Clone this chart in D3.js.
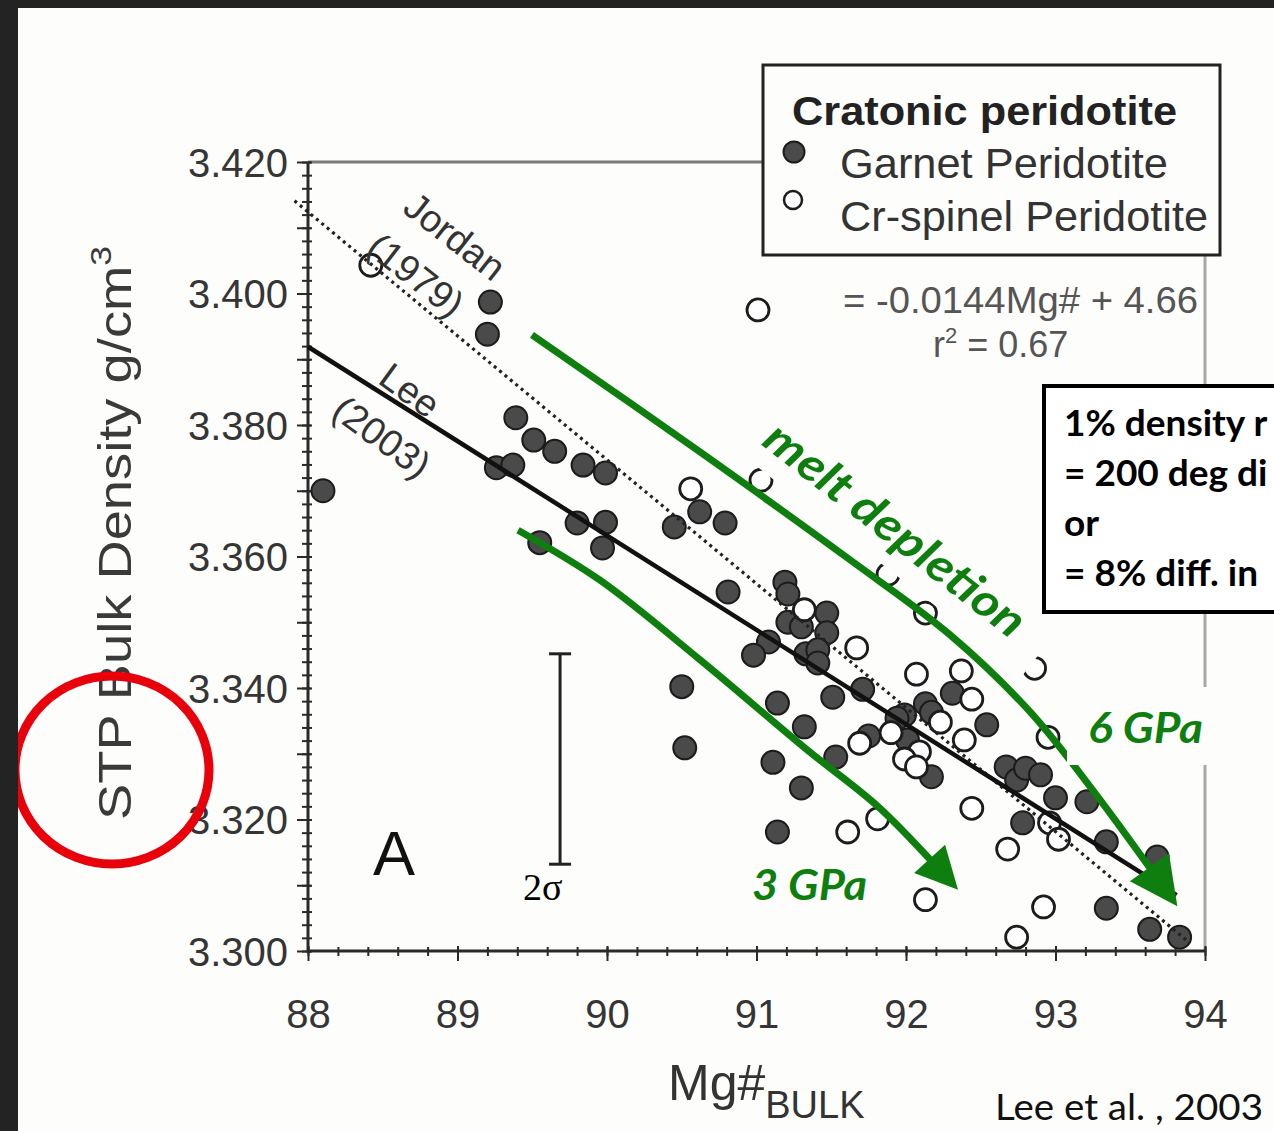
<!DOCTYPE html>
<html><head><meta charset="utf-8">
<script src="https://cdn.jsdelivr.net/npm/d3@7"></script>
<style>body{margin:0;background:#fdfdfb;overflow:hidden} svg{display:block;}</style>
</head><body><svg id="c" width="1274" height="1131"></svg>
<script>
// ---------- data ----------
const xTicks = [88, 89, 90, 91, 92, 93, 94];
const yTicks = [3.300, 3.320, 3.340, 3.360, 3.380, 3.400, 3.420];
// Garnet peridotite (filled) [Mg#, density]
const garnet = [[88.10,3.3700],[89.22,3.3987],[89.20,3.3938],[89.39,3.3811],[89.51,3.3777],[89.65,3.3760],[89.26,3.3735],[89.37,3.3739],[89.84,3.3739],[89.99,3.3727],[89.80,3.3651],[89.99,3.3652],[89.97,3.3613],[89.55,3.3621],[90.45,3.3645],[90.62,3.3668],[90.79,3.3651],[90.81,3.3546],[91.19,3.3561],[91.21,3.3543],[91.47,3.3514],[91.21,3.3500],[91.30,3.3493],[91.47,3.3484],[91.08,3.3470],[90.98,3.3450],[91.33,3.3452],[91.41,3.3458],[91.41,3.3438],[90.50,3.3402],[90.52,3.3309],[91.14,3.3377],[91.51,3.3386],[91.71,3.3398],[91.32,3.3341],[91.11,3.3287],[91.30,3.3248],[91.14,3.3181],[91.53,3.3295],[91.75,3.3327],[92.31,3.3392],[91.99,3.3359],[92.13,3.3376],[92.17,3.3363],[92.54,3.3344],[92.01,3.3321],[92.17,3.3265],[92.67,3.3280],[92.74,3.3260],[92.80,3.3278],[92.90,3.3268],[93.00,3.3233],[93.21,3.3227],[92.78,3.3195],[93.34,3.3166],[93.68,3.3143],[93.34,3.3065],[93.63,3.3033],[93.83,3.3021],[91.94,3.3354]];
// Cr-spinel peridotite (open)
const spinel = [[88.42,3.4043],[91.01,3.3975],[90.56,3.3703],[91.03,3.3716],[91.32,3.3519],[91.67,3.3461],[92.13,3.3514],[91.88,3.3573],[92.07,3.3421],[92.37,3.3426],[92.44,3.3383],[92.23,3.3348],[91.90,3.3332],[91.69,3.3316],[92.39,3.3321],[92.09,3.3303],[91.99,3.3292],[92.07,3.3280],[92.44,3.3217],[91.81,3.3201],[91.61,3.3181],[92.95,3.3325],[92.86,3.3430],[92.96,3.3195],[93.02,3.3170],[92.68,3.3155],[92.13,3.3078],[92.92,3.3067],[92.74,3.3021]];
// regression lines
const leeFit = [[88.0,3.3919],[93.81,3.3085]];
const jordanFit = [[87.91,3.4141],[93.9,3.3012]];
// annotation arrows (data coords)
const meltArrow = [[89.498,3.3937],[90.622,3.3759],[91.625,3.3595],[92.294,3.3481],[92.829,3.3364],[93.298,3.3230],[93.815,3.3068]];
const gpa3Arrow = [[89.405,3.3640],[89.953,3.3564],[90.622,3.3443],[91.338,3.3306],[91.826,3.3217],[92.348,3.3093]];
// 2 sigma error bar
const errBar = {mg: 89.686, center: 3.3292, half: 0.016};
// info box lines (as visible, cut by the picture edge)
const infoLines = ["1% density r","= 200 deg di","or","= 8% diff. in"];

// ---------- setup ----------
const svg = d3.select("#c");
const FONT = "'Liberation Sans', Arial, sans-serif";
const SANS2 = "Lato, 'Open Sans', sans-serif";
const GREEN = "#0e7f0e";
svg.append("rect").attr("width",1274).attr("height",1131).attr("fill","#fdfdfb");

const x = d3.scaleLinear().domain([88,94]).range([308,1205]);
const y = d3.scaleLinear().domain([3.300,3.420]).range([951,162]);

// frame (top & right, gray)
svg.append("line").attr("x1",x(88)).attr("x2",765).attr("y1",y(3.42)).attr("y2",y(3.42))
  .attr("stroke","#7a7a7a").attr("stroke-width",3);
svg.append("line").attr("x1",x(94)).attr("x2",x(94)).attr("y1",250).attr("y2",y(3.30))
  .attr("stroke","#a8a8a8").attr("stroke-width",3);

// ---------- axes ----------
const yMinor = d3.range(3.300, 3.4201, 0.002);
const yMid = d3.range(3.310, 3.42, 0.02);
const xMinor = d3.range(88, 94.001, 0.2);

function styleAxis(g){ g.select(".domain").remove(); g.selectAll("line").attr("stroke","#2a2a2a").attr("stroke-width",2); }

const gy = svg.append("g");
gy.append("g").attr("transform",`translate(${x(88)},0)`)
  .call(d3.axisLeft(y).tickValues(yMinor).tickSize(5).tickFormat(""))
  .call(styleAxis).selectAll("line").attr("x2",-6).attr("x1",4);
gy.append("g").attr("transform",`translate(${x(88)},0)`)
  .call(d3.axisLeft(y).tickValues(yMid).tickSize(11).tickFormat(""))
  .call(styleAxis).selectAll("line").attr("x1",3);
const yMaj = gy.append("g").attr("transform",`translate(${x(88)},0)`)
  .call(d3.axisLeft(y).tickValues(yTicks).tickSize(11).tickPadding(9).tickFormat(d3.format(".3f")))
  .call(styleAxis);
yMaj.selectAll("line").attr("x1",3);
yMaj.selectAll("text").attr("font-family",FONT).attr("font-size",40).attr("fill","#353535").attr("dy","0.36em");

const gx = svg.append("g");
gx.append("g").attr("transform",`translate(0,${y(3.30)})`)
  .call(d3.axisBottom(x).tickValues(xMinor).tickSize(5).tickFormat(""))
  .call(styleAxis).selectAll("line").attr("y1",-4);
const xMaj = gx.append("g").attr("transform",`translate(0,${y(3.30)})`)
  .call(d3.axisBottom(x).tickValues(xTicks).tickSize(10).tickPadding(67).tickFormat(d3.format("d")))
  .call(styleAxis);
xMaj.selectAll("line").attr("y1",-5);
xMaj.selectAll("text").attr("font-family",FONT).attr("font-size",40).attr("fill","#353535").attr("dy","0");

// axis lines
svg.append("line").attr("x1",x(88)).attr("x2",x(88)).attr("y1",y(3.42)).attr("y2",y(3.30)+2).attr("stroke","#2a2a2a").attr("stroke-width",3);
svg.append("line").attr("x1",x(88)-1).attr("x2",x(94)).attr("y1",y(3.30)).attr("y2",y(3.30)).attr("stroke","#2a2a2a").attr("stroke-width",3);

// axis titles
const yt = svg.append("text").attr("transform","translate(131,533) rotate(-90)")
  .attr("text-anchor","middle").attr("font-family",FONT).attr("font-size",46).attr("fill","#3a3a3a")
  .attr("textLength",574).attr("lengthAdjust","spacingAndGlyphs");
yt.append("tspan").text("STP Bulk Density g/cm");
yt.append("tspan").attr("font-size",30).attr("dy",-20).text("3");

const xt = svg.append("text").attr("x",668).attr("y",1100).attr("font-family",FONT).attr("fill","#333");
xt.append("tspan").attr("font-size",50).text("Mg#");
xt.append("tspan").attr("font-size",38).attr("dy",18).text("BULK");

// ---------- points ----------
const pts = svg.append("g");
pts.selectAll(".g").data(garnet).join("circle")
  .attr("cx",d=>x(d[0])).attr("cy",d=>y(d[1])).attr("r",11.5)
  .attr("fill","#4a4a4a").attr("stroke","#1c1c1c").attr("stroke-width",2);
pts.selectAll(".s").data(spinel).join("circle")
  .attr("cx",d=>x(d[0])).attr("cy",d=>y(d[1])).attr("r",11)
  .attr("fill","#fff").attr("stroke","#1c1c1c").attr("stroke-width",2.8);

// ---------- fit lines ----------
const line = d3.line().x(d=>x(d[0])).y(d=>y(d[1]));
svg.append("path").attr("d",line(jordanFit)).attr("fill","none").attr("stroke","#222")
  .attr("stroke-width",3.2).attr("stroke-dasharray","3,4");
svg.append("path").attr("d",line(leeFit)).attr("fill","none").attr("stroke","#111").attr("stroke-width",4.5);

function rotLabel(txt, mg, rho, ang){
  svg.append("text").attr("transform",`translate(${x(mg)},${y(rho)}) rotate(${ang})`)
    .attr("text-anchor","middle").attr("dy","0.35em").attr("font-family",FONT).attr("font-size",38)
    .attr("fill","#333").text(txt);
}
rotLabel("Jordan", 88.983, 3.4087, 38);
rotLabel("(1979)", 88.722, 3.4028, 38);
rotLabel("Lee", 88.682, 3.3853, 36);
rotLabel("(2003)", 88.495, 3.3782, 36);

// equation text
svg.append("text").attr("x",843).attr("y",313).attr("font-family",FONT).attr("font-size",36).attr("fill","#555")
  .attr("textLength",355).attr("lengthAdjust","spacingAndGlyphs").text("= -0.0144Mg# + 4.66");
const r2 = svg.append("text").attr("x",933).attr("y",357).attr("font-family",FONT).attr("font-size",36).attr("fill","#555");
r2.append("tspan").text("r");
r2.append("tspan").attr("font-size",22).attr("dy",-14).text("2");
r2.append("tspan").attr("dy",14).text(" = 0.67");

// panel letter & error bar
svg.append("text").attr("x",373).attr("y",875).attr("font-family",FONT).attr("font-size",63).attr("fill","#111").text("A");
const eb = svg.append("g").attr("stroke","#222").attr("stroke-width",3);
eb.append("line").attr("x1",x(errBar.mg)).attr("x2",x(errBar.mg)).attr("y1",y(errBar.center+errBar.half)).attr("y2",y(errBar.center-errBar.half));
eb.append("line").attr("x1",x(errBar.mg)-11).attr("x2",x(errBar.mg)+11).attr("y1",y(errBar.center+errBar.half)).attr("y2",y(errBar.center+errBar.half));
eb.append("line").attr("x1",x(errBar.mg)-11).attr("x2",x(errBar.mg)+11).attr("y1",y(errBar.center-errBar.half)).attr("y2",y(errBar.center-errBar.half));
svg.append("text").attr("x",523).attr("y",900).attr("font-family","'Liberation Serif', 'Times New Roman', serif")
  .attr("font-size",38).attr("fill","#000").text("2σ");

// ---------- legend ----------
const lg = svg.append("g");
lg.append("rect").attr("x",763).attr("y",65).attr("width",457).attr("height",190).attr("fill","#fdfdfb")
  .attr("stroke","#222").attr("stroke-width",3);
lg.append("text").attr("x",792).attr("y",125).attr("font-family",FONT).attr("font-weight","bold").attr("font-size",40)
  .attr("fill","#222").attr("textLength",385).attr("lengthAdjust","spacingAndGlyphs").text("Cratonic peridotite");
lg.append("circle").attr("cx",794).attr("cy",152).attr("r",10.5).attr("fill","#4a4a4a").attr("stroke","#1c1c1c").attr("stroke-width",2);
lg.append("circle").attr("cx",793).attr("cy",200).attr("r",9).attr("fill","#fff").attr("stroke","#1c1c1c").attr("stroke-width",2.5);
lg.append("text").attr("x",840).attr("y",178).attr("font-family",FONT).attr("font-size",42).attr("fill","#333")
  .attr("textLength",328).attr("lengthAdjust","spacingAndGlyphs").text("Garnet Peridotite");
lg.append("text").attr("x",840).attr("y",231).attr("font-family",FONT).attr("font-size",42).attr("fill","#333")
  .attr("textLength",368).attr("lengthAdjust","spacingAndGlyphs").text("Cr-spinel Peridotite");

// ---------- green arrows ----------
function arrow(data, headLen, headHalf){
  const p = svg.append("path").attr("d", d3.line().x(d=>x(d[0])).y(d=>y(d[1])).curve(d3.curveCatmullRom)(data))
    .attr("fill","none").attr("stroke",GREEN).attr("stroke-width",7);
  const L = p.node().getTotalLength();
  const tip = p.node().getPointAtLength(L);
  const back = p.node().getPointAtLength(L - headLen);
  const dx = tip.x-back.x, dy = tip.y-back.y, n = Math.hypot(dx,dy);
  const ux = dx/n, uy = dy/n;
  const bx = tip.x-ux*headLen, by = tip.y-uy*headLen;
  p.attr("stroke-dasharray", `${L-headLen+4},${L}`);
  svg.append("path").attr("d",`M${tip.x},${tip.y}L${bx-uy*headHalf},${by+ux*headHalf}L${bx+uy*headHalf},${by-ux*headHalf}Z`)
    .attr("fill",GREEN);
}
arrow(meltArrow, 48, 24);
arrow(gpa3Arrow, 42, 21);

// ---------- text boxes ----------
const md = svg.append("g").attr("transform","translate(895,530) rotate(38)");
md.append("rect").attr("x",-182).attr("y",-35).attr("width",372).attr("height",70).attr("fill","#fdfdfb");
md.append("text").attr("text-anchor","middle").attr("dy","0.33em").attr("font-family",SANS2)
  .attr("font-weight","bold").attr("font-style","italic").attr("font-size",46).attr("fill",GREEN)
  .attr("textLength",318).attr("lengthAdjust","spacingAndGlyphs").text("melt depletion");

svg.append("rect").attr("x",1067).attr("y",687).attr("width",190).attr("height",78).attr("fill","#fdfdfb");
svg.append("text").attr("x",1088).attr("y",743).attr("font-family",SANS2)
  .attr("font-weight","bold").attr("font-style","italic").attr("font-size",42).attr("fill",GREEN)
  .attr("textLength",115).attr("lengthAdjust","spacingAndGlyphs").text("6 GPa");
svg.append("text").attr("x",752).attr("y",900).attr("font-family",SANS2)
  .attr("font-weight","bold").attr("font-style","italic").attr("font-size",42).attr("fill",GREEN)
  .attr("textLength",115).attr("lengthAdjust","spacingAndGlyphs").text("3 GPa");

const ib = svg.append("g");
ib.append("rect").attr("x",1044).attr("y",386).attr("width",260).attr("height",226).attr("fill","#fff")
  .attr("stroke","#000").attr("stroke-width",4);
ib.selectAll(".t").data(infoLines).join("text").attr("x",1064).attr("y",(d,i)=>436+i*50)
  .attr("font-family",SANS2).attr("font-weight","bold").attr("font-size",37).attr("fill","#000")
  .text(d=>d);

// citation
svg.append("text").attr("x",995).attr("y",1120).attr("font-family",SANS2).attr("font-size",37)
  .attr("fill","#111").attr("textLength",268).attr("lengthAdjust","spacingAndGlyphs").text("Lee et al. , 2003");

// red circle highlight
svg.append("ellipse").attr("cx",112).attr("cy",770).attr("rx",97).attr("ry",94)
  .attr("fill","none").attr("stroke","#e8000b").attr("stroke-width",9);

// dark frame edges
svg.append("rect").attr("x",0).attr("y",0).attr("width",1274).attr("height",8).attr("fill","#232323");
svg.append("rect").attr("x",0).attr("y",0).attr("width",18).attr("height",1131).attr("fill","#232323");
</script></body></html>
